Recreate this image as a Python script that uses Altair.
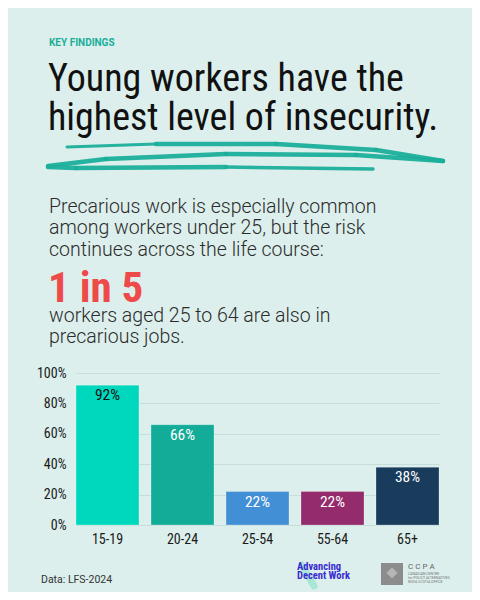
import altair as alt
import pandas as pd

# ---- data ----
ages = ["15-19", "20-24", "25-54", "55-64", "65+"]
shares = [92, 66, 22, 22, 38]
bar_colors = ["#00D8BE", "#12AC99", "#428FD5", "#942B6C", "#193C5D"]
y_ticks = [0, 20, 40, 60, 80, 100]

kicker = "KEY FINDINGS"
title_lines = ["Young workers have the", "highest level of insecurity."]
para_lines = ["Precarious work is especially common",
              "among workers under 25, but the risk",
              "continues across the life course:"]
highlight = "1 in 5"
para2_lines = ["workers aged 25 to 64 are also in", "precarious jobs."]
source = "Data: LFS-2024"
logo1 = ["Advancing", "Decent Work"]
logo2 = "C C P A"
logo2_small = ["CANADIAN CENTRE", "for POLICY ALTERNATIVES", "NOVA SCOTIA OFFICE"]

df = pd.DataFrame({"age": ages, "share": shares})
one = pd.DataFrame({"k": [0]})

BG = "#DCEFEC"
COND = "Roboto Condensed, DejaVu Sans Condensed, sans-serif"
BODY = "Roboto, Noto Sans, sans-serif"
TEAL = "#1AAE9A"

x_enc = alt.X("age:N", sort=ages, title=None,
              scale=alt.Scale(paddingInner=0.16, paddingOuter=0),
              axis=alt.Axis(labelAngle=0, domain=False, ticks=False, labelPadding=7,
                            labelFont=COND, labelFontSize=14, labelColor="#1a1a1a"))
y_enc = alt.Y("share:Q", title=None,
              scale=alt.Scale(domain=[0, 100], nice=False),
              axis=alt.Axis(values=y_ticks, labelExpr="datum.value + '%'", domain=False,
                            ticks=False, labelPadding=10, gridColor="#C6DEDB",
                            labelOverlap=False, labelFlush=False,
                            labelFont=COND, labelFontSize=14, labelColor="#1a1a1a"))

bars = alt.Chart(df).mark_bar(stroke="#ffffff", strokeOpacity=0.25, strokeWidth=1).encode(
    x=x_enc, y=y_enc,
    color=alt.Color("age:N", sort=ages, scale=alt.Scale(domain=ages, range=bar_colors), legend=None),
)

labels = alt.Chart(df).mark_text(baseline="top", dy=3, font=COND, fontSize=15.5).encode(
    x=x_enc,
    y=y_enc,
    text=alt.Text("label:N"),
    color=alt.condition("datum.age == '15-19'", alt.value("#111111"), alt.value("#ffffff")),
).transform_calculate(label="datum.share + '%'")


def txt(s, x, y, **kw):
    return alt.Chart(one).mark_text(align="left", baseline="alphabetic", **kw).encode(
        x=alt.value(x), y=alt.value(y), text=alt.value(s))


def stroke(x1, y1, x2, y2, w=4.5):
    return alt.Chart(one).mark_rule(color=TEAL, strokeWidth=w, strokeCap="round", opacity=0.95).encode(
        x=alt.value(x1), x2=alt.value(x2), y=alt.value(y1), y2=alt.value(y2))


layers = [bars, labels]
layers.append(txt(kicker, -27, -327, font=BODY, fontSize=10, fontWeight="bold", color=TEAL))
layers.append(txt(title_lines[0], -28, -282, font=COND, fontSize=38, color="#111111"))
layers.append(txt(title_lines[1], -28, -243, font=COND, fontSize=38, color="#111111"))
# brush swoosh (decoration)
layers += [stroke(-9, -226, 80, -229, 3), stroke(80, -229, 200, -229), stroke(200, -229, 300, -223),
           stroke(300, -223, 367, -212),
           stroke(367, -212, 280, -218), stroke(280, -218, 150, -219), stroke(150, -219, 30, -214),
           stroke(30, -214, -28, -207),
           stroke(-28, -206, 0, -205), stroke(0, -205, 150, -206), stroke(150, -206, 297, -204, 3.5)]
for s, yy in zip(para_lines, [-160, -139, -117]):
    layers.append(txt(s, -27, yy, font=BODY, fontSize=19.5, fontWeight=300, color="#2b2b2b"))
layers.append(txt(highlight, -28, -71, font=COND, fontSize=43, fontWeight="bold", color="#EF4A4A"))
for s, yy in zip(para2_lines, [-51, -30]):
    layers.append(txt(s, -27, yy, font=BODY, fontSize=19.5, fontWeight=300, color="#2b2b2b"))
layers.append(txt(source, -35, 210, font=BODY, fontSize=10.5, color="#333333"))
# logos (approximate)
layers.append(alt.Chart(one).mark_rule(color="#A8E6D6", strokeWidth=7, strokeCap="round").encode(
    x=alt.value(226), x2=alt.value(238), y=alt.value(192), y2=alt.value(213)))
layers.append(txt(logo1[0], 221, 197, font=COND, fontSize=10.5, fontWeight="bold", color="#3A2BD1"))
layers.append(txt(logo1[1], 221, 206, font=COND, fontSize=10.5, fontWeight="bold", color="#3A2BD1"))
layers.append(alt.Chart(one).mark_rect(color="#8C8C8C").encode(
    x=alt.value(305), x2=alt.value(327), y=alt.value(190), y2=alt.value(212)))
layers.append(alt.Chart(one).mark_point(shape="diamond", filled=True, color="#C8C8C8", size=120).encode(
    x=alt.value(316), y=alt.value(200)))
layers.append(txt(logo2, 332, 196, font=BODY, fontSize=8, color="#666666"))
for s, yy in zip(logo2_small, [202, 206, 210]):
    layers.append(txt(s, 332, yy, font=BODY, fontSize=3.5, color="#777777"))

chart = alt.layer(*layers).properties(
    width=363, height=152,
    background=BG,
    padding={"left": 68, "top": 365, "right": 33, "bottom": 67},
    autosize=alt.AutoSizeParams(type="none"),
).configure_view(stroke=None)

chart.save("out.html", embed_options={"renderer": "svg", "actions": False})
